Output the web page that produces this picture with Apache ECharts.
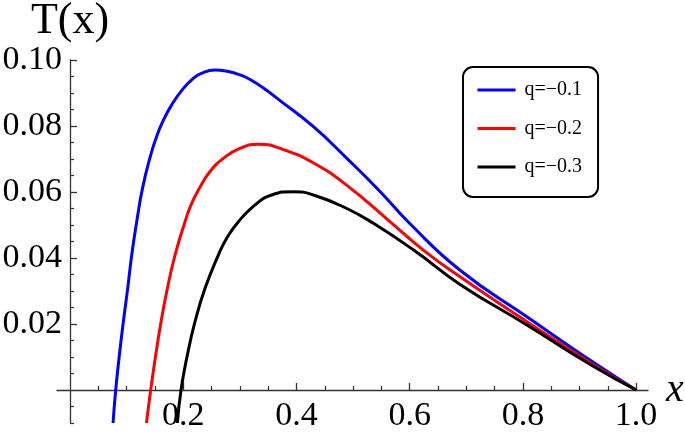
<!DOCTYPE html>
<html>
<head>
<meta charset="utf-8">
<script src="https://cdn.jsdelivr.net/npm/echarts@6/dist/echarts.min.js"></script>
<style>
  html, body { margin: 0; padding: 0; background: #fff; }
  #chart { width: 685px; height: 440px; }
</style>
</head>
<body>
<div id="chart"></div>
<script>
// ---- data ----
const seriesNames = ['q=\u22120.1', 'q=\u22120.2', 'q=\u22120.3'];
const seriesColors = ['#0000ff', '#ff0000', '#000000'];

const blueX = [0.0760, 0.0807, 0.0872, 0.0942, 0.1019, 0.109, 0.1178, 0.128, 0.1425, 0.152, 0.1637, 0.1796, 0.2002, 0.2179, 0.230, 0.2562, 0.280, 0.300, 0.318, 0.3416, 0.371, 0.430, 0.489, 0.548, 0.601, 0.689, 0.807, 0.925, 1.0];
const blueY = [-0.010, 0.000, 0.0106, 0.0207, 0.0308, 0.0409, 0.0510, 0.0611, 0.0712, 0.0763, 0.0813, 0.0864, 0.0914, 0.0944, 0.0958, 0.0970, 0.0965, 0.0955, 0.0941, 0.0915, 0.0877, 0.0798, 0.0702, 0.0601, 0.0503, 0.0363, 0.0222, 0.0083, 0.0];

const redX = [0.1350, 0.1425, 0.1514, 0.1608, 0.172, 0.1855, 0.2032, 0.2138, 0.2285, 0.2473, 0.2709, 0.300, 0.3327, 0.371, 0.430, 0.489, 0.562, 0.624, 0.689, 0.807, 0.925, 1.0];
const redY = [-0.010, 0.000, 0.0106, 0.0207, 0.0308, 0.0409, 0.0510, 0.0561, 0.0611, 0.0662, 0.0702, 0.0732, 0.0745, 0.0732, 0.0688, 0.0620, 0.0515, 0.0424, 0.0343, 0.0207, 0.0076, 0.0];

const blackX = [0.1897, 0.1961, 0.2073, 0.2208, 0.2385, 0.262, 0.2768, 0.2974, 0.3269, 0.3563, 0.3946, 0.430, 0.489, 0.536, 0.607, 0.689, 0.807, 0.925, 1.0];
const blackY = [-0.010, 0.000, 0.0106, 0.0207, 0.0308, 0.0409, 0.0460, 0.0510, 0.0561, 0.0591, 0.0601, 0.0591, 0.0550, 0.0505, 0.0424, 0.0320, 0.0197, 0.0071, 0.0];

const xMajorTicks = [0.2, 0.4, 0.6, 0.8, 1.0];
const xMinorTicks = [0.05, 0.1, 0.15, 0.25, 0.3, 0.35, 0.45, 0.5, 0.55, 0.65, 0.7, 0.75, 0.85, 0.9, 0.95];
const yMajorTicks = [0.02, 0.04, 0.06, 0.08, 0.10];
const yMinorTicks = [-0.01, -0.005, 0.005, 0.01, 0.015, 0.025, 0.03, 0.035, 0.045, 0.05, 0.055, 0.065, 0.07, 0.075, 0.085, 0.09, 0.095];

const xRange = [-0.023, 1.021];
const yRange = [-0.01, 0.10];

// ---- chart ----
const FONT = '"Liberation Serif", "DejaVu Serif", serif';
const AXIS_COLOR = '#333';

function pairs(xs, ys) { return xs.map((x, i) => [x, ys[i]]); }
const allData = [pairs(blueX, blueY), pairs(redX, redY), pairs(blackX, blackY)];

const chart = echarts.init(document.getElementById('chart'), null, { renderer: 'canvas' });

const option = {
  animation: false,
  backgroundColor: '#fff',
  grid: { left: 57, right: 37, top: 60, bottom: 17, containLabel: false, outerBoundsMode: 'none' },
  legend: {
    orient: 'vertical',
    left: 463, top: 67,
    data: seriesNames,
    itemWidth: 38, itemHeight: 20, itemGap: 18.5,
    padding: [13, 16, 20, 13],
    borderColor: '#000', borderWidth: 2, borderRadius: 10,
    backgroundColor: '#fff',
    itemStyle: { opacity: 0, color: 'rgba(0,0,0,0)', borderWidth: 0 },
    lineStyle: { width: 3 },
    textStyle: { fontFamily: FONT, fontSize: 20, color: '#000', lineHeight: 20, padding: [0, 0, 0, 4] }
  },
  xAxis: [
    {
      type: 'value', min: xRange[0], max: xRange[1], position: 'bottom',
      axisLine: { onZero: true, onZeroAxisIndex: 0, lineStyle: { color: AXIS_COLOR, width: 1.3 } },
      axisTick: { show: true, inside: true, length: 7, customValues: xMajorTicks, lineStyle: { color: AXIS_COLOR, width: 1.3 } },
      axisLabel: { show: true, customValues: xMajorTicks, margin: -24, fontFamily: FONT, fontSize: 34, color: '#000',
        formatter: v => v.toFixed(1) },
      splitLine: { show: false },
      name: 'x', nameLocation: 'end', nameGap: 18,
      nameTextStyle: { fontFamily: FONT, fontStyle: 'italic', fontSize: 40, color: '#000' }
    },
    {
      type: 'value', min: xRange[0], max: xRange[1], position: 'bottom',
      axisLine: { show: false, onZero: true, onZeroAxisIndex: 0 },
      axisTick: { show: true, inside: true, length: 4, customValues: xMinorTicks, lineStyle: { color: AXIS_COLOR, width: 1.2 } },
      axisLabel: { show: false },
      splitLine: { show: false }
    }
  ],
  yAxis: [
    {
      type: 'value', min: yRange[0], max: yRange[1], position: 'left',
      axisLine: { onZero: true, onZeroAxisIndex: 0, lineStyle: { color: AXIS_COLOR, width: 1.3 } },
      axisTick: { show: true, inside: true, length: 7, customValues: yMajorTicks, lineStyle: { color: AXIS_COLOR, width: 1.3 } },
      axisLabel: { show: true, customValues: yMajorTicks, margin: -5, fontFamily: FONT, fontSize: 34, color: '#000',
        formatter: v => v.toFixed(2) },
      splitLine: { show: false },
      name: 'T(x)', nameLocation: 'end', nameGap: 14,
      nameTextStyle: { fontFamily: FONT, fontSize: 44, color: '#000' }
    },
    {
      type: 'value', min: yRange[0], max: yRange[1], position: 'left',
      axisLine: { show: false, onZero: true, onZeroAxisIndex: 0 },
      axisTick: { show: true, inside: true, length: 4, customValues: yMinorTicks, lineStyle: { color: AXIS_COLOR, width: 1.2 } },
      axisLabel: { show: false },
      splitLine: { show: false }
    }
  ],
  series: seriesNames.map((name, i) => ({
    name: name,
    type: 'line',
    xAxisIndex: 0, yAxisIndex: 0,
    data: allData[i],
    smooth: 0.5,
    symbol: 'none',
    lineStyle: { color: seriesColors[i], width: 3 },
    itemStyle: { color: seriesColors[i] },
    z: 3
  }))
};

chart.setOption(option);
</script>
</body>
</html>
